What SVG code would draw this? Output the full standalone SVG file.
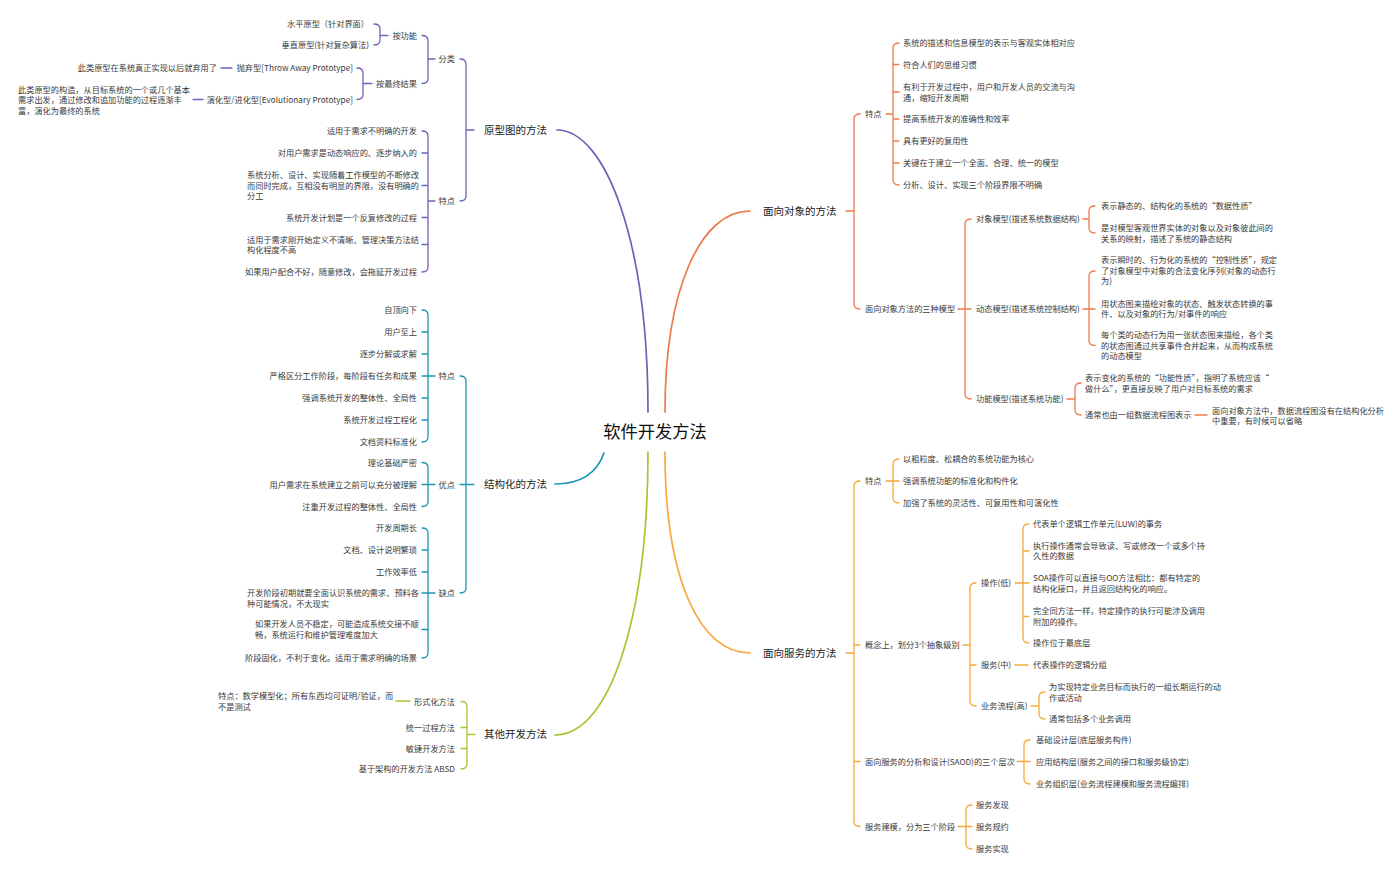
<svg xmlns="http://www.w3.org/2000/svg" width="1400" height="872" viewBox="0 0 1400 872">
<style>
.ln{fill:none;stroke-width:1.3;stroke-linecap:round;stroke-linejoin:round}
.cv{fill:none;stroke-width:1.7;stroke-linecap:round}
.p{stroke:#6e62b6}.t{stroke:#1a98b2}.g{stroke:#a6c531}.o{stroke:#ef7a4b}.s{stroke:#f6a93b}
text{font-family:"Noto Sans CJK SC","Noto Sans",sans-serif;dominant-baseline:central}
.c{font-size:8.2px;fill:#3a3a3a}
.l1{font-size:10.5px;fill:#222}
.rt{font-size:17.3px;fill:#111;text-anchor:middle}
.e{text-anchor:end}
</style>
<rect width="1400" height="872" fill="#fff"/>
<g id="connectors">
<path class="cv p" d="M557,130 C605,130 648,240 648,412"/>
<path class="cv o" d="M665,412 C665,290 700,211 750,211"/>
<path class="cv t" d="M555,484 C585,484 598,470 604,453"/>
<path class="cv g" d="M555,735 C612,735 648,610 648,452"/>
<path class="cv s" d="M665,452 C665,580 700,653 750,653"/>
<path class="ln p" d="M460,59 Q466,59 466,64 V196 Q466,201 460,201 M466,130 H474"/>
<path class="ln p" d="M422,35.5 Q428,35.5 428,40.5 V78.5 Q428,83.5 422,83.5 M428,59 H435"/>
<path class="ln p" d="M374,24 Q380,24 380,29 V40 Q380,45 374,45 M380,35.5 H388"/>
<path class="ln p" d="M357,68 Q363,68 363,73 V94.5 Q363,99.5 357,99.5 M363,83.5 H372"/>
<path class="ln p" d="M221,68 H232 M193,99.5 H203"/>
<path class="ln p" d="M422,131 Q428,131 428,136 V267 Q428,272 422,272 M422,153 H428 M422,185.5 H428 M422,217.5 H428 M422,244.5 H428 M428,201 H435"/>
<path class="ln t" d="M460,376 Q466,376 466,381 V588 Q466,593 460,593 M460,484.5 H474"/>
<path class="ln t" d="M422,310 Q428,310 428,315 V437 Q428,442 422,442 M422,332 H428 M422,354 H428 M422,376 H435 M422,398 H428 M422,420 H428"/>
<path class="ln t" d="M422,462.5 Q428,462.5 428,467.5 V501.5 Q428,506.5 422,506.5 M422,484.5 H435"/>
<path class="ln t" d="M422,528 Q428,528 428,533 V653 Q428,658 422,658 M422,550 H428 M422,572 H428 M422,593 H435 M422,629.5 H428"/>
<path class="ln g" d="M461,701.5 Q467,701.5 467,706.5 V764 Q467,769 461,769 M461,727.5 H467 M461,748.5 H467 M467,734.5 H475"/>
<path class="ln g" d="M396,701 H410"/>
<path class="ln o" d="M860,114 Q854,114 854,119 V304 Q854,309 860,309 M846,211 H854"/>
<path class="ln o" d="M899,43 Q893,43 893,48 V180 Q893,185 899,185 M893,64.5 H899 M893,92 H899 M893,119 H899 M893,141 H899 M893,163 H899 M886,114 H893"/>
<path class="ln o" d="M971,219 Q965,219 965,224 V394 Q965,399 971,399 M958,309 H971"/>
<path class="ln o" d="M1095,206 Q1089,206 1089,211 V228 Q1089,233 1095,233 M1083,219 H1089"/>
<path class="ln o" d="M1095,271 Q1089,271 1089,276 V340.5 Q1089,345.5 1095,345.5 M1083,309 H1095"/>
<path class="ln o" d="M1081,383 Q1075,383 1075,388 V410 Q1075,415 1081,415 M1067,399 H1075"/>
<path class="ln o" d="M1195,415 H1207"/>
<path class="ln s" d="M860,481 Q854,481 854,486 V821.5 Q854,826.5 860,826.5 M860,645 H854 M860,761.5 H854 M846,653 H854"/>
<path class="ln s" d="M899,459 Q893,459 893,464 V498 Q893,503 899,503 M886,481 H899"/>
<path class="ln s" d="M976,583 Q970,583 970,588 V701 Q970,706 976,706 M976,665 H970 M963,645 H970"/>
<path class="ln s" d="M1029,524 Q1023,524 1023,529 V638 Q1023,643 1029,643 M1023,551 H1029 M1015,583 H1029 M1023,616.5 H1029"/>
<path class="ln s" d="M1015,665 H1028"/>
<path class="ln s" d="M1045,692 Q1039,692 1039,697 V714 Q1039,719 1045,719 M1031,706 H1039"/>
<path class="ln s" d="M1030,740 Q1024,740 1024,745 V779 Q1024,784 1030,784 M1017,761.5 H1030"/>
<path class="ln s" d="M972,805 Q966,805 966,810 V844 Q966,849 972,849 M958,826.5 H972"/>
</g>
<g id="nodes" transform="translate(0,-0.8)">
<g id="root"><text class="rt" x="655" y="431.5">软件开发方法</text></g>

<g id="proto"><text class="l1" x="484" y="130">原型图的方法</text></g>
<g id="proto-cls"><text class="c e" x="455" y="59">分类</text></g>
<g id="proto-func"><text class="c e" x="417" y="35.5">按功能</text></g>
<g id="proto-h"><text class="c e" x="369" y="24">水平原型（针对界面）</text></g>
<g id="proto-v"><text class="c e" x="369" y="45">垂直原型(针对复杂算法)</text></g>
<g id="proto-res"><text class="c e" x="417" y="83.5">按最终结果</text></g>
<g id="proto-throw"><text class="c e" x="353" y="68">抛弃型[Throw Away Prototype]</text></g>
<g id="proto-throw-d"><text class="c e" x="217" y="68">此类原型在系统真正实现以后就弃用了</text></g>
<g id="proto-evo"><text class="c e" x="353" y="99.5">演化型/进化型[Evolutionary Prototype]</text></g>
<g id="proto-evo-d"><text class="c" x="18" y="89.5">此类原型的构造，从目标系统的一个或几个基本</text><text class="c" x="18" y="100">需求出发，通过修改和追加功能的过程逐渐丰</text><text class="c" x="18" y="110.5">富，演化为最终的系统</text></g>
<g id="proto-feat"><text class="c e" x="455" y="201">特点</text></g>
<g id="pf1"><text class="c e" x="417" y="131">适用于需求不明确的开发</text></g>
<g id="pf2"><text class="c e" x="417" y="153">对用户需求是动态响应的、逐步纳入的</text></g>
<g id="pf3"><text class="c" x="247" y="175">系统分析、设计、实现随着工作模型的不断修改</text><text class="c" x="247" y="185.5">而同时完成，互相没有明显的界限，没有明确的</text><text class="c" x="247" y="196">分工</text></g>
<g id="pf4"><text class="c e" x="417" y="217.5">系统开发计划是一个反复修改的过程</text></g>
<g id="pf5"><text class="c" x="247" y="239.5">适用于需求刚开始定义不清晰、管理决策方法结</text><text class="c" x="247" y="250">构化程度不高</text></g>
<g id="pf6"><text class="c e" x="417" y="272">如果用户配合不好，随意修改，会拖延开发过程</text></g>

<g id="struct"><text class="l1" x="484" y="484.5">结构化的方法</text></g>
<g id="st-feat"><text class="c e" x="455" y="376">特点</text></g>
<g id="sf1"><text class="c e" x="417" y="310">自顶向下</text></g>
<g id="sf2"><text class="c e" x="417" y="332">用户至上</text></g>
<g id="sf3"><text class="c e" x="417" y="354">逐步分解或求解</text></g>
<g id="sf4"><text class="c e" x="417" y="376">严格区分工作阶段，每阶段有任务和成果</text></g>
<g id="sf5"><text class="c e" x="417" y="398">强调系统开发的整体性、全局性</text></g>
<g id="sf6"><text class="c e" x="417" y="420">系统开发过程工程化</text></g>
<g id="sf7"><text class="c e" x="417" y="442">文档资料标准化</text></g>
<g id="st-pro"><text class="c e" x="455" y="484.5">优点</text></g>
<g id="sp1"><text class="c e" x="417" y="462.5">理论基础严密</text></g>
<g id="sp2"><text class="c e" x="417" y="484.5">用户需求在系统建立之前可以充分被理解</text></g>
<g id="sp3"><text class="c e" x="417" y="506.5">注重开发过程的整体性、全局性</text></g>
<g id="st-con"><text class="c e" x="455" y="593">缺点</text></g>
<g id="sc1"><text class="c e" x="417" y="528">开发周期长</text></g>
<g id="sc2"><text class="c e" x="417" y="550">文档、设计说明繁琐</text></g>
<g id="sc3"><text class="c e" x="417" y="572">工作效率低</text></g>
<g id="sc4"><text class="c" x="247" y="592.5">开发阶段初期就要全面认识系统的需求、预料各</text><text class="c" x="247" y="603.5">种可能情况，不太现实</text></g>
<g id="sc5"><text class="c" x="255" y="624">如果开发人员不稳定，可能造成系统交接不顺</text><text class="c" x="255" y="635">畅，系统运行和维护管理难度加大</text></g>
<g id="sc6"><text class="c e" x="417" y="658">阶段固化，不利于变化。适用于需求明确的场景</text></g>

<g id="other"><text class="l1" x="484" y="734.5">其他开发方法</text></g>
<g id="ot1"><text class="c e" x="455" y="701.5">形式化方法</text></g>
<g id="ot1-d"><text class="c" x="218" y="696">特点：数学模型化；所有东西均可证明/验证，而</text><text class="c" x="218" y="706.5">不是测试</text></g>
<g id="ot2"><text class="c e" x="455" y="727.5">统一过程方法</text></g>
<g id="ot3"><text class="c e" x="455" y="748.5">敏捷开发方法</text></g>
<g id="ot4"><text class="c e" x="455" y="769">基于架构的开发方法 ABSD</text></g>

<g id="oo"><text class="l1" x="763" y="211">面向对象的方法</text></g>
<g id="oo-feat"><text class="c" x="865" y="114">特点</text></g>
<g id="of1"><text class="c" x="903" y="43">系统的描述和信息模型的表示与客观实体相对应</text></g>
<g id="of2"><text class="c" x="903" y="64.5">符合人们的思维习惯</text></g>
<g id="of3"><text class="c" x="903" y="87">有利于开发过程中，用户和开发人员的交流与沟</text><text class="c" x="903" y="97.5">通，缩短开发周期</text></g>
<g id="of4"><text class="c" x="903" y="119">提高系统开发的准确性和效率</text></g>
<g id="of5"><text class="c" x="903" y="141">具有更好的复用性</text></g>
<g id="of6"><text class="c" x="903" y="163">关键在于建立一个全面、合理、统一的模型</text></g>
<g id="of7"><text class="c" x="903" y="185">分析、设计、实现三个阶段界限不明确</text></g>
<g id="oo-models"><text class="c" x="865" y="309">面向对象方法的三种模型</text></g>
<g id="om-obj"><text class="c" x="976" y="219">对象模型(描述系统数据结构)</text></g>
<g id="om-obj1"><text class="c" x="1101" y="206">表示静态的、结构化的系统的“数据性质”</text></g>
<g id="om-obj2"><text class="c" x="1101" y="228">是对模型客观世界实体的对象以及对象彼此间的</text><text class="c" x="1101" y="238.5">关系的映射，描述了系统的静态结构</text></g>
<g id="om-dyn"><text class="c" x="976" y="309">动态模型(描述系统控制结构)</text></g>
<g id="om-dyn1"><text class="c" x="1101" y="260">表示瞬时的、行为化的系统的“控制性质”，规定</text><text class="c" x="1101" y="270.5">了对象模型中对象的合法变化序列(对象的动态行</text><text class="c" x="1101" y="281">为)</text></g>
<g id="om-dyn2"><text class="c" x="1101" y="303.5">用状态图来描绘对象的状态、触发状态转换的事</text><text class="c" x="1101" y="314">件、以及对象的行为/对事件的响应</text></g>
<g id="om-dyn3"><text class="c" x="1101" y="335">每个类的动态行为用一张状态图来描绘，各个类</text><text class="c" x="1101" y="345.5">的状态图通过共享事件合并起来，从而构成系统</text><text class="c" x="1101" y="356">的动态模型</text></g>
<g id="om-fun"><text class="c" x="976" y="399">功能模型(描述系统功能)</text></g>
<g id="om-fun1"><text class="c" x="1085" y="378">表示变化的系统的“功能性质”，指明了系统应该“</text><text class="c" x="1085" y="388.5">做什么”，更直接反映了用户对目标系统的需求</text></g>
<g id="om-fun2"><text class="c" x="1085" y="415">通常也由一组数据流程图表示</text></g>
<g id="om-fun2-d"><text class="c" x="1212" y="410.5">面向对象方法中，数据流程图没有在结构化分析</text><text class="c" x="1212" y="421">中重要，有时候可以省略</text></g>

<g id="soa"><text class="l1" x="763" y="653">面向服务的方法</text></g>
<g id="soa-feat"><text class="c" x="865" y="481">特点</text></g>
<g id="sa1"><text class="c" x="903" y="459">以粗粒度、松耦合的系统功能为核心</text></g>
<g id="sa2"><text class="c" x="903" y="481">强调系统功能的标准化和构件化</text></g>
<g id="sa3"><text class="c" x="903" y="503">加强了系统的灵活性、可复用性和可演化性</text></g>
<g id="soa-lv"><text class="c" x="865" y="645">概念上，划分3个抽象级别</text></g>
<g id="lv-op"><text class="c" x="981" y="583">操作(低)</text></g>
<g id="op1"><text class="c" x="1033" y="524">代表单个逻辑工作单元(LUW)的事务</text></g>
<g id="op2"><text class="c" x="1033" y="545.5">执行操作通常会导致读、写或修改一个或多个持</text><text class="c" x="1033" y="556">久性的数据</text></g>
<g id="op3"><text class="c" x="1033" y="578">SOA操作可以直接与OO方法相比：都有特定的</text><text class="c" x="1033" y="589">结构化接口，并且返回结构化的响应。</text></g>
<g id="op4"><text class="c" x="1033" y="611">完全同方法一样，特定操作的执行可能涉及调用</text><text class="c" x="1033" y="621.5">附加的操作。</text></g>
<g id="op5"><text class="c" x="1033" y="643">操作位于最底层</text></g>
<g id="lv-svc"><text class="c" x="981" y="665">服务(中)</text></g>
<g id="svc1"><text class="c" x="1033" y="665">代表操作的逻辑分组</text></g>
<g id="lv-bp"><text class="c" x="981" y="706">业务流程(高)</text></g>
<g id="bp1"><text class="c" x="1049" y="687">为实现特定业务目标而执行的一组长期运行的动</text><text class="c" x="1049" y="697.5">作或活动</text></g>
<g id="bp2"><text class="c" x="1049" y="719">通常包括多个业务调用</text></g>
<g id="soa-saod"><text class="c" x="865" y="761.5">面向服务的分析和设计(SAOD)的三个层次</text></g>
<g id="sd1"><text class="c" x="1036" y="740">基础设计层(底层服务构件)</text></g>
<g id="sd2"><text class="c" x="1036" y="761.5">应用结构层(服务之间的接口和服务级协定)</text></g>
<g id="sd3"><text class="c" x="1036" y="784">业务组织层(业务流程建模和服务流程编排)</text></g>
<g id="soa-model"><text class="c" x="865" y="826.5">服务建模，分为三个阶段</text></g>
<g id="sm1"><text class="c" x="976" y="805">服务发现</text></g>
<g id="sm2"><text class="c" x="976" y="826.5">服务规约</text></g>
<g id="sm3"><text class="c" x="976" y="849">服务实现</text></g>
</g>
</svg>
